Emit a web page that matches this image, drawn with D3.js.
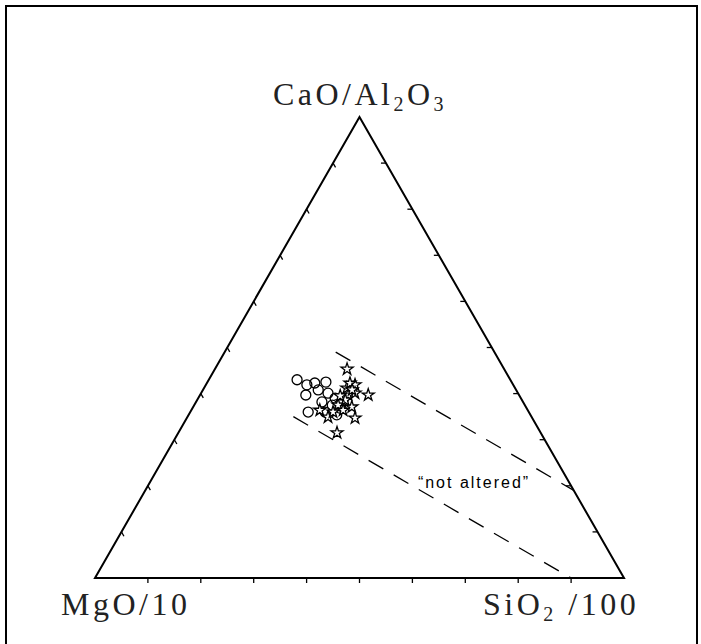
<!DOCTYPE html>
<html>
<head>
<meta charset="utf-8">
<script src="https://cdn.jsdelivr.net/npm/d3@7"></script>
<style>
  body { margin: 0; background: #fff; }
</style>
</head>
<body>
<div id="chart"></div>
<script>
// ternary values as [CaO/Al2O3, MgO/10, SiO2/100] in percent
var openCircles = [
  [43.0, 40.3, 16.7], [41.9, 39.0, 19.1], [42.3, 37.3, 20.4], [42.5, 35.1, 22.4],
  [40.8, 37.4, 21.8], [39.7, 40.3, 20.0], [40.1, 35.9, 24.0], [39.0, 35.1, 25.9],
  [36.0, 41.7, 22.3], [36.0, 38.5, 25.5], [35.4, 36.6, 28.0], [37.5, 36.4, 26.1],
  [36.9, 35.3, 27.9], [38.6, 33.8, 27.6], [38.2, 38.0, 23.8]
];
var stars = [
  [45.3, 29.7, 25.0], [41.2, 31.8, 27.0], [41.9, 29.9, 28.2], [39.7, 28.5, 31.8],
  [39.7, 32.3, 28.0], [40.1, 30.8, 29.1], [38.2, 34.2, 27.6], [37.1, 32.9, 30.0],
  [36.4, 39.3, 24.3], [34.9, 38.5, 26.6], [34.7, 33.5, 31.8], [31.5, 38.5, 30.0],
  [37.5, 35.3, 27.2], [38.6, 33.4, 28.0], [42.3, 30.7, 27.1], [36.4, 34.9, 28.7],
  [36.0, 37.0, 27.0], [40.8, 31.0, 28.2], [39.5, 33.9, 26.6]
];
// "not altered" field boundaries (start, end)
var upperBound = [[49.0, 30.0, 21.0], [19.0, 0.0, 81.0]];
var lowerBound = [[35.0, 45.0, 20.0], [0.0, 10.0, 90.0]];
var fieldLabel = "\u201Cnot altered\u201D";
var labelPos = [19.5, 18.6, 61.9];

var width = 701, height = 644;

var svg = d3.select("#chart").append("svg")
    .attr("width", width)
    .attr("height", height);

// frame
svg.append("path")
    .attr("d", "M6,650 L6,6 L697,6 L697,650")
    .attr("fill", "none")
    .attr("stroke", "#000")
    .attr("stroke-width", 2);

var xScale = d3.scaleLinear().domain([0, 1]).range([95, 624]);
var yScale = d3.scaleLinear().domain([0, 1]).range([578, 117]);

// ternary -> screen
function tern(d) {
  var s = d[0] + d[1] + d[2];
  var a = d[0] / s, c = d[2] / s;
  return [xScale(c + a / 2), yScale(a)];
}

var g = svg.append("g");

// triangle
var corners = [[100, 0, 0], [0, 100, 0], [0, 0, 100]].map(tern);
g.append("path")
    .attr("d", d3.line()(corners) + "Z")
    .attr("fill", "none")
    .attr("stroke", "#000")
    .attr("stroke-width", 2)
    .attr("stroke-linejoin", "miter");

// ticks every 10%
var tickVals = d3.scaleLinear().domain([0, 100]).ticks(10).slice(1, -1);
var tickLen = 5;

tickVals.forEach(function(t) {
  // base
  var p = tern([0, 100 - t, t]);
  g.append("line").attr("x1", p[0]).attr("y1", p[1])
    .attr("x2", p[0]).attr("y2", p[1] + tickLen);
  // left side
  var q = tern([t, 100 - t, 0]);
  g.append("line").attr("x1", q[0]).attr("y1", q[1])
    .attr("x2", q[0] + tickLen * 0.5).attr("y2", q[1] + tickLen * 0.866);
  // right side
  var r = tern([t, 0, 100 - t]);
  g.append("line").attr("x1", r[0]).attr("y1", r[1])
    .attr("x2", r[0] - tickLen).attr("y2", r[1]);
});
g.selectAll("line").attr("stroke", "#000").attr("stroke-width", 1.3);

// dashed bounds
[upperBound, lowerBound].forEach(function(b) {
  g.append("path")
    .attr("d", d3.line()(b.map(tern)))
    .attr("fill", "none")
    .attr("stroke", "#000")
    .attr("stroke-width", 1.3)
    .attr("stroke-dasharray", "17,12");
});

var lp = tern(labelPos);
g.append("text")
    .attr("x", lp[0])
    .attr("y", lp[1])
    .attr("text-anchor", "middle")
    .attr("font-family", "'Liberation Sans', Arial, sans-serif")
    .attr("font-size", 16)
    .attr("letter-spacing", 2)
    .text(fieldLabel);

// points
g.selectAll("circle.pt")
  .data(openCircles)
  .enter()
  .append("circle")
    .attr("class", "pt")
    .attr("cx", d => tern(d)[0])
    .attr("cy", d => tern(d)[1])
    .attr("r", 5)
    .attr("fill", "none")
    .attr("stroke", "#000")
    .attr("stroke-width", 1.3);

var star = d3.symbol().type(d3.symbolStar).size(45);
g.selectAll("path.star")
  .data(stars)
  .enter()
  .append("path")
    .attr("class", "star")
    .attr("d", star)
    .attr("transform", d => "translate(" + tern(d)[0] + "," + tern(d)[1] + ")")
    .attr("fill", "#fff")
    .attr("stroke", "#000")
    .attr("stroke-width", 1.3)
    .attr("stroke-linejoin", "miter");

// vertex labels
var labelFont = "'Liberation Serif', 'Times New Roman', serif";
function addLabel(x, y, anchor, parts) {
  var t = svg.append("text")
      .attr("x", x).attr("y", y)
      .attr("text-anchor", anchor)
      .attr("font-family", labelFont)
      .attr("font-size", 32)
      .attr("letter-spacing", 3.5)
      .attr("fill", "#222");
  parts.forEach(function(p) {
    var ts = t.append("tspan").text(p[0]);
    if (p[1]) {
      ts.attr("font-size", 20).attr("dy", 6);
    } else if (p[2]) {
      ts.attr("dy", -6);
    }
  });
}
addLabel(360, 105, "middle", [["CaO/Al"], ["2", true], ["O", false, true], ["3", true]]);
addLabel(61, 615, "start", [["MgO/10"]]);
addLabel(483, 615, "start", [["SiO"], ["2", true], [" /100", false, true]]);
</script>
</body>
</html>
